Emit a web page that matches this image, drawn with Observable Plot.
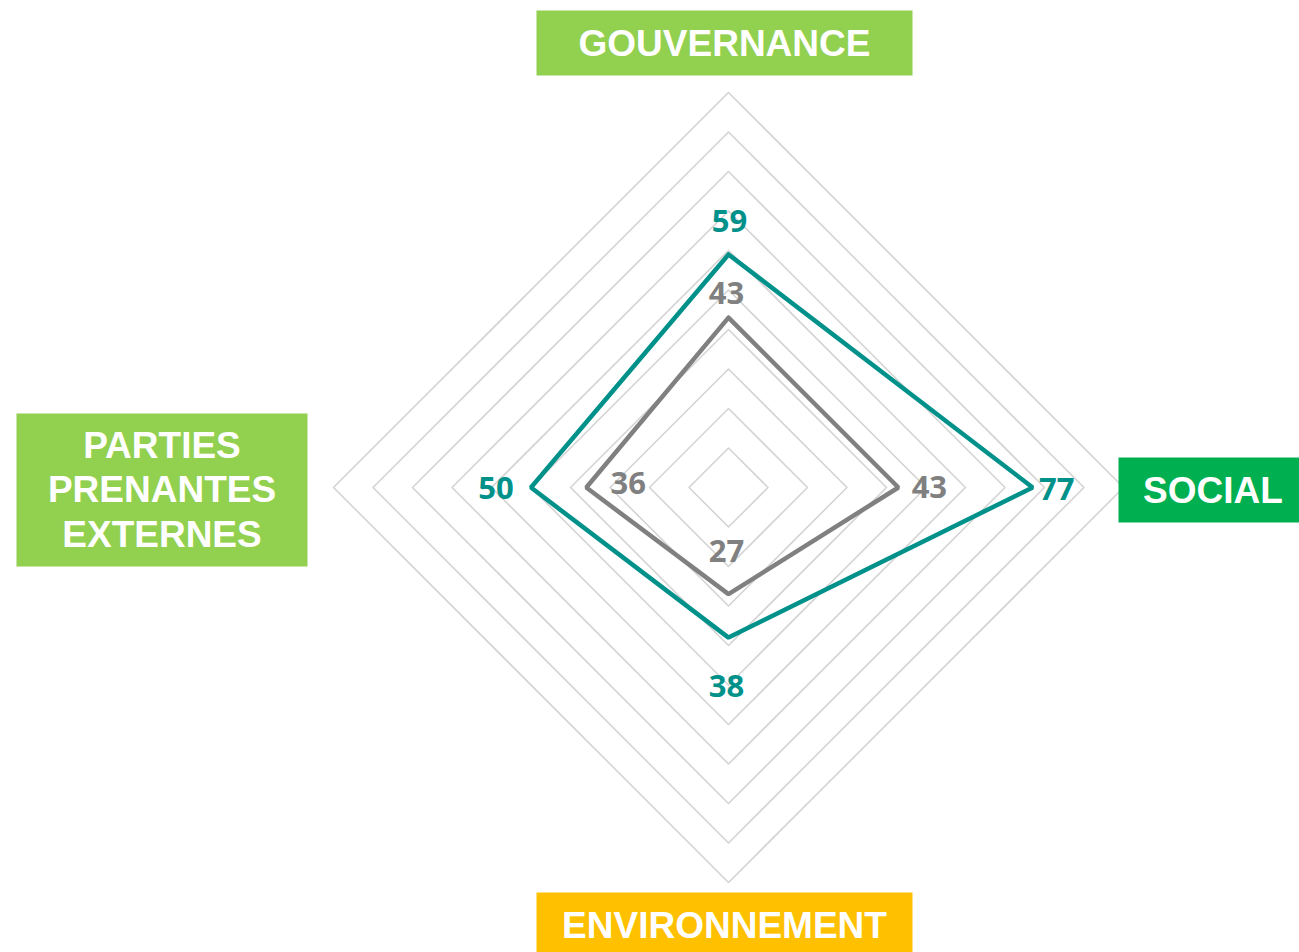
<!DOCTYPE html>
<html><head><meta charset="utf-8">
<script src="https://cdn.jsdelivr.net/npm/d3@7"></script>
<script src="https://cdn.jsdelivr.net/npm/@observablehq/plot@0.6"></script>
<style>html,body{margin:0;padding:0;background:#fff;overflow:hidden}</style>
</head><body><div id="chart"></div>
<script>
// ---- data ----
const categories = ["GOUVERNANCE", "SOCIAL", "ENVIRONNEMENT", "PARTIES PRENANTES EXTERNES"];
const categoryLabels = ["GOUVERNANCE", "SOCIAL", "ENVIRONNEMENT", "PARTIES\nPRENANTES\nEXTERNES"];
const seriesNames = ["Série 1", "Série 2"];
const tealValues = [59, 77, 38, 50];
const grayValues = [43, 43, 27, 36];
const gridLevels = [10, 20, 30, 40, 50, 60, 70, 80, 90, 100];

// ---- styles ----
const seriesColors = ["#00918A", "#808080"];
const boxColors = ["#92D050", "#00B050", "#FFC000", "#92D050"];
const boxSizes = [[376, 65], [181, 65], [376, 65], [291, 153]];
const boxOffsets = [[-4, -49.5], [85.5, 2.5], [-4, 42.5], [-171.5, 2.5]];
const textShift = [[0, -1], [4, -1], [0, -1], [0, -2]];
const labelOffsets = [
  [[1, -32], [24, 3], [-2, 49], [-35, 2]],
  [[-2, -24], [31, 1], [-2, -42], [42, -3]]
];

// ---- geometry ----
const angle = i => Math.PI / 2 - i * Math.PI / 2;
const px = (i, v) => v * Math.cos(angle(i));
const py = (i, v) => v * Math.sin(angle(i));

const gridData = gridLevels.flatMap(l =>
  [0, 1, 2, 3, 0].map(i => ({level: l, x: px(i, l), y: py(i, l)})));

const seriesValues = [tealValues, grayValues];
const seriesData = seriesValues.flatMap((vals, s) =>
  [0, 1, 2, 3, 0].map(i => ({series: seriesNames[s], x: px(i, vals[i]), y: py(i, vals[i])})));

const pointData = seriesValues.flatMap((vals, s) =>
  vals.map((v, i) => ({s, i, series: seriesNames[s], value: v, x: px(i, v), y: py(i, v)})));

const font = "'Liberation Sans', Arial, sans-serif";
const numFont = "'Open Sans', Lato, sans-serif";

const labelMarks = pointData.map(d => Plot.text([d], {
  x: "x", y: "y", text: d => String(d.value),
  dx: labelOffsets[d.s][d.i][0], dy: labelOffsets[d.s][d.i][1],
  fill: seriesColors[d.s], fontSize: 31, fontWeight: "bold", fontFamily: numFont,
  textAnchor: "middle", lineAnchor: "middle"
}));

const categoryMarks = categories.map((c, i) => Plot.text([{i, label: categoryLabels[i], x: px(i, 100), y: py(i, 100)}], {
  x: "x", y: "y", text: "label",
  dx: boxOffsets[i][0] + textShift[i][0], dy: boxOffsets[i][1] + textShift[i][1],
  fill: "white", fontSize: 37, fontWeight: "bold", fontFamily: font,
  lineHeight: 1.2, textAnchor: "middle", lineAnchor: "middle",
  render(index, scales, values, dims, ctx, next) {
    const g = next(index, scales, values, dims, ctx);
    for (const k of index) {
      const [w, h] = boxSizes[i];
      const r = document.createElementNS("http://www.w3.org/2000/svg", "rect");
      r.setAttribute("x", values.x[k] - w / 2 - textShift[i][0]);
      r.setAttribute("y", values.y[k] - h / 2 - textShift[i][1]);
      r.setAttribute("width", w);
      r.setAttribute("height", h);
      r.setAttribute("fill", boxColors[i]);
      g.insertBefore(r, g.firstChild);
    }
    return g;
  }
}));

const chart = Plot.plot({
  width: 1299, height: 952,
  marginLeft: 333, marginRight: 176, marginTop: 92, marginBottom: 70,
  x: {domain: [-100, 100], axis: null},
  y: {domain: [-100, 100], axis: null},
  style: {background: "white", overflow: "visible"},
  marks: [
    Plot.line(gridData, {x: "x", y: "y", z: "level", stroke: "#D4D4D4", strokeWidth: 1.6}),
    Plot.line(seriesData, {x: "x", y: "y", z: "series", stroke: d => d.series,
      strokeWidth: 4.5, strokeLinejoin: "miter"}),
    ...labelMarks,
    ...categoryMarks
  ],
  color: {domain: seriesNames, range: seriesColors}
});
document.getElementById("chart").append(chart);
</script>
</body></html>
